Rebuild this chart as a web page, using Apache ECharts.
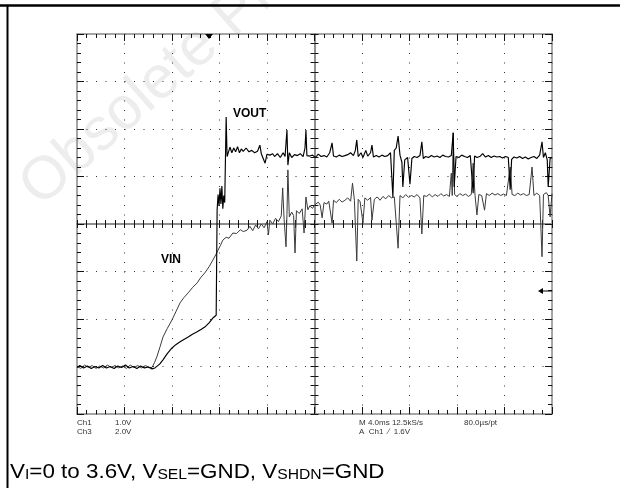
<!DOCTYPE html>
<html>
<head>
<meta charset="utf-8">
<script src="https://cdn.jsdelivr.net/npm/echarts@6/dist/echarts.min.js"></script>
<style>
html, body { margin: 0; padding: 0; background: #fff; }
#chart { width: 620px; height: 488px; }
</style>
</head>
<body>
<div id="chart"></div>
<script>
var xRange = [0, 10];
var yRange = [0, 8];

var vinTrace = [
  [0,1.0],[0.08,0.96],[0.16,1.03],[0.24,0.98],[0.32,1.02],[0.4,0.96],[0.48,1.01],[0.56,0.97],[0.64,1.03],[0.72,0.98],
  [0.8,1.02],[0.88,0.97],[0.96,1.01],[1.04,0.96],[1.12,1.03],[1.2,0.98],[1.28,1.02],[1.36,0.97],[1.44,1.02],[1.52,0.98],
  [1.58,0.98],[1.63,1.08],[1.68,1.2],[1.75,1.42],[1.81,1.62],[1.9,1.8],[2.0,1.98],[2.08,2.15],[2.17,2.34],[2.25,2.45],
  [2.34,2.55],[2.43,2.66],[2.53,2.76],[2.61,2.88],[2.69,2.97],[2.78,3.1],[2.86,3.24],[2.92,3.35],[2.97,3.45],[3.02,3.55],
  [3.07,3.66],[3.14,3.72],[3.2,3.7],[3.28,3.81],[3.36,3.8],[3.44,3.88],[3.5,3.84],[3.58,3.87],[3.64,3.95],[3.7,3.86],
  [3.76,3.98],[3.82,3.9],[3.88,4.0],[3.94,3.92],[4.0,4.05],[4.03,3.77],[4.06,4.08],[4.12,4.0],[4.18,4.12],[4.24,4.05],
  [4.3,4.17],[4.33,4.76],[4.36,4.1],[4.4,3.52],[4.42,4.2],[4.44,5.14],[4.47,4.15],[4.52,4.25],[4.56,4.18],[4.59,3.39],
  [4.62,4.28],[4.68,4.22],[4.74,4.32],[4.78,3.81],[4.82,4.57],[4.86,4.3],[4.9,4.38],[4.96,4.33],[5.0,4.4],[5.04,4.36],
  [5.08,4.46],[5.12,4.4],[5.16,4.13],[5.2,4.45],[5.26,4.42],[5.3,4.48],[5.37,4.02],[5.4,4.5],[5.46,4.45],[5.52,4.52],
  [5.58,4.46],[5.64,4.5],[5.7,4.55],[5.76,4.48],[5.8,4.86],[5.84,4.5],[5.89,3.22],[5.92,4.52],[5.96,4.47],[6.02,4.02],
  [6.06,4.55],[6.12,4.5],[6.18,4.56],[6.21,4.08],[6.26,4.52],[6.32,4.57],[6.38,4.5],[6.44,4.58],[6.5,4.53],[6.56,4.6],
  [6.62,4.55],[6.68,4.57],[6.76,3.49],[6.8,4.6],[6.86,4.55],[6.92,4.62],[6.98,4.56],[7.04,4.6],[7.1,4.57],[7.16,4.62],
  [7.22,4.55],[7.26,3.79],[7.3,4.6],[7.36,4.58],[7.42,4.63],[7.48,4.57],[7.54,4.62],[7.6,4.58],[7.66,4.64],[7.72,4.59],
  [7.78,4.62],[7.84,4.58],[7.88,5.07],[7.9,4.6],[7.92,5.92],[7.95,4.62],[8.0,4.58],[8.06,4.64],[8.12,4.6],[8.18,4.63],
  [8.24,4.58],[8.3,4.62],[8.34,5.28],[8.38,4.6],[8.42,4.19],[8.46,4.62],[8.52,4.6],[8.58,4.29],[8.62,4.64],[8.68,4.6],
  [8.74,4.65],[8.8,4.61],[8.86,4.64],[8.92,4.6],[8.98,4.63],[9.04,4.6],[9.12,5.2],[9.16,4.62],[9.22,4.6],[9.28,4.65],
  [9.34,4.61],[9.4,4.64],[9.46,4.6],[9.52,4.62],[9.58,5.2],[9.62,4.6],[9.68,4.65],[9.74,4.6],[9.79,3.31],[9.82,4.62],
  [9.88,4.66],[9.92,4.6],[9.96,4.15],[10,4.64]
];

var voutTrace = [
  [0,0.98],[0.06,1.02],[0.14,0.97],[0.22,1.01],[0.3,0.96],[0.38,1.0],[0.46,0.97],[0.54,1.02],[0.62,0.97],[0.7,1.0],
  [0.78,0.96],[0.86,1.01],[0.94,0.98],[1.02,1.03],[1.1,0.97],[1.18,1.0],[1.26,0.96],[1.34,1.01],[1.42,0.97],[1.5,0.99],
  [1.58,0.95],[1.64,0.97],[1.68,0.98],[1.74,1.05],[1.81,1.14],[1.9,1.27],[2.0,1.39],[2.08,1.46],[2.17,1.52],[2.25,1.57],
  [2.34,1.62],[2.43,1.68],[2.53,1.73],[2.61,1.78],[2.69,1.83],[2.78,1.92],[2.86,2.02],[2.93,2.08],[2.95,4.3],[2.97,4.62],
  [2.99,4.38],[3.01,4.75],[3.03,4.42],[3.05,4.8],[3.07,4.32],[3.09,4.6],[3.11,4.45],[3.14,6.25],[3.16,5.42],[3.18,5.45],
  [3.22,5.62],[3.26,5.5],[3.3,5.6],[3.34,5.52],[3.38,5.63],[3.42,5.5],[3.46,5.58],[3.5,5.53],[3.56,5.6],[3.62,5.52],
  [3.68,5.55],[3.74,5.5],[3.8,5.53],[3.85,5.66],[3.88,5.48],[3.96,5.28],[4.0,5.47],[4.06,5.45],[4.12,5.48],[4.16,5.42],
  [4.22,5.48],[4.28,5.4],[4.34,5.5],[4.38,5.42],[4.42,5.98],[4.44,5.24],[4.47,5.5],[4.52,5.4],[4.58,5.46],[4.64,5.44],
  [4.7,5.48],[4.76,5.42],[4.8,5.6],[4.82,5.98],[4.84,5.44],[4.9,5.43],[4.96,5.45],[5.02,5.4],[5.08,5.47],[5.14,5.42],
  [5.2,5.44],[5.26,5.41],[5.32,5.5],[5.37,5.71],[5.4,5.43],[5.46,5.41],[5.52,5.45],[5.58,5.42],[5.64,5.44],[5.7,5.46],
  [5.76,5.5],[5.82,5.44],[5.86,5.55],[5.89,5.77],[5.92,5.42],[5.98,5.5],[6.02,5.4],[6.08,5.55],[6.12,5.43],[6.18,5.5],
  [6.21,5.66],[6.24,5.41],[6.3,5.44],[6.36,5.41],[6.42,5.45],[6.48,5.42],[6.54,5.44],[6.6,5.5],[6.65,4.57],[6.68,5.55],
  [6.72,5.6],[6.76,5.85],[6.8,5.45],[6.84,5.3],[6.86,4.78],[6.9,5.35],[6.96,5.4],[7.01,4.84],[7.05,5.38],[7.1,5.42],
  [7.16,5.4],[7.22,5.44],[7.26,5.73],[7.29,5.38],[7.34,5.42],[7.4,5.4],[7.46,5.44],[7.52,5.41],[7.58,5.43],[7.64,5.4],
  [7.7,5.45],[7.76,5.42],[7.82,5.41],[7.88,5.44],[7.92,5.92],[7.94,4.78],[7.98,5.42],[8.04,5.4],[8.1,5.45],[8.16,5.42],
  [8.22,5.4],[8.28,5.44],[8.34,4.65],[8.37,5.43],[8.42,5.4],[8.48,5.42],[8.54,5.48],[8.6,5.41],[8.66,5.44],[8.72,5.4],
  [8.78,5.43],[8.84,5.41],[8.9,5.42],[8.96,5.39],[9.02,5.42],[9.08,5.4],[9.12,4.72],[9.15,5.36],[9.2,5.41],[9.26,5.39],
  [9.32,5.42],[9.38,5.38],[9.44,5.41],[9.5,5.37],[9.56,5.4],[9.62,5.42],[9.68,5.38],[9.74,5.45],[9.79,5.73],[9.82,5.4],
  [9.86,5.5],[9.9,5.35],[9.92,4.78],[9.96,5.38],[10,5.4]
];

var traceNames = ['VIN', 'VOUT'];
var chLabels = ['Ch1', 'Ch3'];
var chScales = ['1.0V', '2.0V'];
var timebase = ['M 4.0ms 12.5kS/s', '80.0\u00b5s/pt'];
var triggerText = 'A  Ch1  \u2215  1.6V';

var GL = 77, GT = 34, GW = 475, GH = 380;
var FONT = 'Liberation Sans, Arial, sans-serif';
var SMALL = 'Liberation Sans Narrow, Liberation Sans, Arial, sans-serif';

var chart = echarts.init(document.getElementById('chart'));

function frameAxis(grid, pos, range, inside, len, minorLen, dotted) {
  return {
    type: 'value', gridIndex: grid, position: pos,
    min: range[0], max: range[1], interval: 1,
    axisLine: { show: true, onZero: grid > 0, lineStyle: { color: '#888', width: 1.5 } },
    axisTick: { show: true, inside: inside, length: len, lineStyle: { color: '#111', width: 1 } },
    minorTick: { show: true, splitNumber: 5, length: minorLen, lineStyle: { color: '#111', width: 1 } },
    axisLabel: { show: false },
    splitLine: { show: !!dotted, lineStyle: { color: '#333', width: 1, type: [1, 8.5] } }
  };
}

var gridBox = { left: GL, top: GT, width: GW, height: GH, show: false };

var option = {
  animation: false,
  grid: [gridBox, gridBox, gridBox],
  xAxis: [
    frameAxis(0, 'bottom', xRange, true, 7, 4, true),
    frameAxis(0, 'top', xRange, true, 7, 4, false),
    frameAxis(1, 'bottom', [-5, 5], true, 4, 4, false),
    frameAxis(2, 'bottom', [-5, 5], false, 4, 4, false)
  ],
  yAxis: [
    frameAxis(0, 'left', yRange, true, 7, 4, true),
    frameAxis(0, 'right', yRange, true, 7, 4, false),
    frameAxis(1, 'left', [-4, 4], true, 4, 4, false),
    frameAxis(2, 'left', [-4, 4], false, 4, 4, false)
  ],
  series: [
    {
      name: traceNames[0], type: 'line', xAxisIndex: 0, yAxisIndex: 0,
      data: vinTrace, showSymbol: false, symbol: 'none', z: 5,
      lineStyle: { color: '#3a3a3a', width: 1 }
    },
    {
      name: traceNames[1], type: 'line', xAxisIndex: 0, yAxisIndex: 0,
      data: voutTrace, showSymbol: false, symbol: 'none', z: 6,
      lineStyle: { color: '#000', width: 1.15 }
    }
  ],
  graphic: [
    // faint watermark
    { type: 'text', x: 49, y: 218, rotation: 0.72, z: 0, silent: true,
      style: { text: 'Obsolete Product(s)', fontSize: 60, fontFamily: FONT, fill: '#ededed', textVerticalAlign: 'bottom' } },
    // page frame
    { type: 'line', shape: { x1: 0, y1: 5.5, x2: 620, y2: 5.5 }, style: { stroke: '#000', lineWidth: 2.5 } },
    { type: 'line', shape: { x1: 7.5, y1: 5, x2: 7.5, y2: 488 }, style: { stroke: '#000', lineWidth: 2 } },
    // trigger position and level markers
    { type: 'polygon', shape: { points: [[205, 34], [213, 34], [209, 39]] }, style: { fill: '#000' }, z: 10 },
    { type: 'polygon', shape: { points: [[538, 291], [543, 288], [543, 294]] }, style: { fill: '#000' }, z: 10 },
    { type: 'line', shape: { x1: 543, y1: 291, x2: 552, y2: 291 }, style: { stroke: '#000', lineWidth: 1 }, z: 10 },
    // trace labels
    { type: 'text', x: 233, y: 108, z: 10, style: { text: traceNames[1], fontSize: 12, fontWeight: 'bold', fontFamily: FONT, fill: '#000' } },
    { type: 'text', x: 161, y: 254, z: 10, style: { text: traceNames[0], fontSize: 12, fontWeight: 'bold', fontFamily: FONT, fill: '#000' } },
    // scope readouts
    { type: 'text', x: 77, y: 419, style: { text: chLabels[0], fontSize: 8, fontFamily: SMALL, fill: '#333' } },
    { type: 'text', x: 115, y: 419, style: { text: chScales[0], fontSize: 8, fontFamily: SMALL, fill: '#333' } },
    { type: 'text', x: 77, y: 428, style: { text: chLabels[1], fontSize: 8, fontFamily: SMALL, fill: '#333' } },
    { type: 'text', x: 115, y: 428, style: { text: chScales[1], fontSize: 8, fontFamily: SMALL, fill: '#333' } },
    { type: 'text', x: 359, y: 419, style: { text: timebase[0], fontSize: 8, fontFamily: SMALL, fill: '#333' } },
    { type: 'text', x: 464, y: 419, style: { text: timebase[1], fontSize: 8, fontFamily: SMALL, fill: '#333' } },
    { type: 'text', x: 359, y: 428, style: { text: triggerText, fontSize: 8, fontFamily: SMALL, fill: '#333' } },
    // caption
    { type: 'text', x: 10, y: 458, scaleX: 1.12,
      style: {
        text: '{m|V}{s|I}{m|=0 to 3.6V, V}{s|SEL}{m|=GND, V}{s|SHDN}{m|=GND}',
        rich: {
          m: { fontSize: 20, lineHeight: 24, verticalAlign: 'bottom', fontFamily: FONT, fill: '#000' },
          s: { fontSize: 14, lineHeight: 12, verticalAlign: 'bottom', fontFamily: FONT, fill: '#000' }
        }
      } }
  ]
};

chart.setOption(option);
</script>
</body>
</html>
